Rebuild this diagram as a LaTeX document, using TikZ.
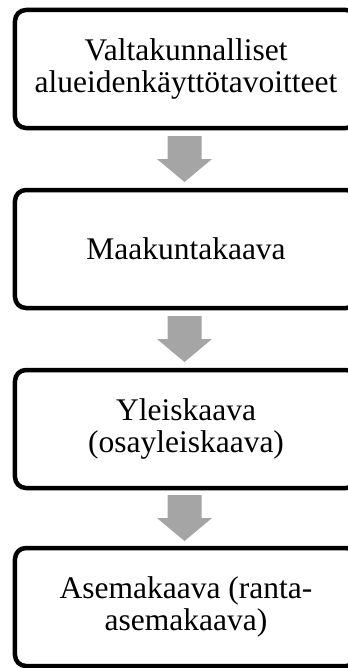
\documentclass[tikz,border=0pt]{standalone}
\usepackage{fontspec}
\setmainfont{Liberation Serif}
\usetikzlibrary{calc}
\definecolor{arrowgray}{HTML}{A5A5A5}
\begin{document}
\begin{tikzpicture}[x=1bp,y=-1bp,
  stage/.style={draw=black, line width=4.5bp, rounded corners=11bp, fill=white,
    minimum width=342bp, minimum height=118bp, inner sep=0pt, align=center,
    font=\fontsize{31.5bp}{32.5bp}\selectfont},
  flowarrow/.style={fill=arrowgray, draw=none}]
  % page area
  \fill[white] (0,0) rectangle (347,668);
  \useasboundingbox (0,0) rectangle (347,668);

  % planning levels, top to bottom
  \node[stage] (b1) at (186,69)  {Valtakunnalliset\\alueidenkäyttötavoitteet};
  \node[stage] (b2) at (186,249) {Maakuntakaava};
  \node[stage] (b3) at (186,429) {Yleiskaava\\(osayleiskaava)};
  \node[stage] (b4) at (186,607) {Asemakaava (ranta-\\asemakaava)};

  % block arrows between consecutive levels
  \foreach \a/\b in {b1/b2, b2/b3, b3/b4} {
    \coordinate (m) at ($(\a.south)!0.5!(\b.north)+(-1.5,0)$);
    \fill[flowarrow] ($(m)+(-17,-23)$) -- ($(m)+(17,-23)$) -- ($(m)+(17,0)$)
      -- ($(m)+(27.5,0)$) -- ($(m)+(0,23)$) -- ($(m)+(-27.5,0)$)
      -- ($(m)+(-17,0)$) -- cycle;
  }
\end{tikzpicture}
\end{document}
